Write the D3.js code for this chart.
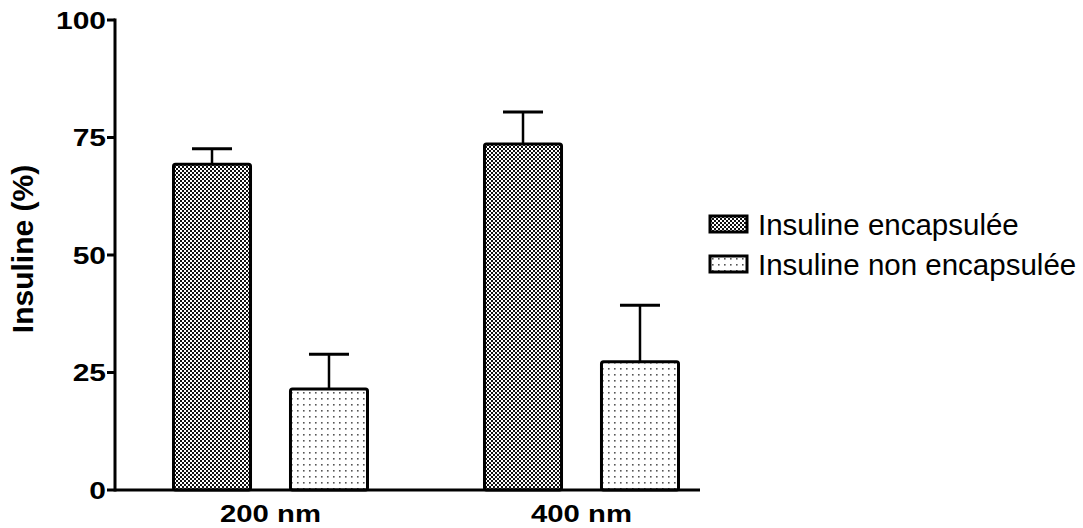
<!DOCTYPE html>
<meta charset="utf-8">
<style>
  body { margin: 0; background: #fff; }
  text { font-family: "Liberation Sans", Arial, sans-serif; }
</style>
<body>
<script src="https://d3js.org/d3.v7.min.js"></script>
<script>
    var width = 1083,
        height = 528;

    // data
    var groups = ['200 nm', '400 nm'];
    var series = ['Insuline encapsulée', 'Insuline non encapsulée'];
    var encapsulee = [69.3, 73.6];
    var encapsuleeErr = [3.3, 6.8];
    var nonEncapsulee = [21.5, 27.3];
    var nonEncapsuleeErr = [7.4, 12.0];
    var yTicks = [0, 25, 50, 75, 100];

    var rows = [];
    groups.forEach(function (g, i) {
        rows.push({group: g, serie: series[0], value: encapsulee[i], err: encapsuleeErr[i]});
        rows.push({group: g, serie: series[1], value: nonEncapsulee[i], err: nonEncapsuleeErr[i]});
    });

    var svg = d3.select('body').append('svg')
        .attr('width', width)
        .attr('height', height);

    var defs = svg.append('defs');
    // dense checker for encapsulée
    var p1 = defs.append('pattern').attr('id', 'pat0')
        .attr('patternUnits', 'userSpaceOnUse').attr('width', 4).attr('height', 4);
    p1.append('rect').attr('width', 4).attr('height', 4).attr('fill', '#fff');
    p1.append('rect').attr('width', 2).attr('height', 2).attr('fill', '#111');
    p1.append('rect').attr('x', 2).attr('y', 2).attr('width', 2).attr('height', 2).attr('fill', '#111');
    // sparse dots for non encapsulée
    var p2 = defs.append('pattern').attr('id', 'pat1')
        .attr('patternUnits', 'userSpaceOnUse').attr('width', 6).attr('height', 6);
    p2.append('rect').attr('width', 6).attr('height', 6).attr('fill', '#fff');
    p2.append('rect').attr('x', 2).attr('y', 2).attr('width', 1.6).attr('height', 1.6).attr('fill', '#555');

    var y = d3.scaleLinear().domain([0, 100]).range([490, 20]);
    var x0 = d3.scaleBand().domain(groups).range([115, 737]);
    var x1 = d3.scaleBand().domain(series).range([57, 254]).paddingInner(0.316);
    var fill = d3.scaleOrdinal().domain(series).range(['url(#pat0)', 'url(#pat1)']);

    // bars
    var bar = svg.append('g').selectAll('g')
        .data(rows)
        .enter().append('g')
        .attr('transform', d => `translate(${x0(d.group) + x1(d.serie)},0)`);

    // error bars (up only)
    bar.append('line')
        .attr('x1', x1.bandwidth() / 2).attr('x2', x1.bandwidth() / 2)
        .attr('y1', d => y(d.value)).attr('y2', d => y(d.value + d.err))
        .attr('stroke', '#000').attr('stroke-width', 2.5);
    bar.append('line')
        .attr('x1', x1.bandwidth() / 2 - 20).attr('x2', x1.bandwidth() / 2 + 20)
        .attr('y1', d => y(d.value + d.err)).attr('y2', d => y(d.value + d.err))
        .attr('stroke', '#000').attr('stroke-width', 3);

    bar.append('rect')
        .attr('x', 1.5)
        .attr('y', d => y(d.value))
        .attr('width', x1.bandwidth() - 3)
        .attr('height', d => y(0) - y(d.value))
        .attr('rx', 2)
        .attr('fill', d => fill(d.serie))
        .attr('stroke', '#000')
        .attr('stroke-width', 3);

    // y axis
    var yAxis = svg.append('g');
    yAxis.append('line')
        .attr('x1', 115).attr('x2', 115)
        .attr('y1', y(100) - 1.5).attr('y2', y(0) + 1.5)
        .attr('stroke', '#000').attr('stroke-width', 3);
    var tk = yAxis.selectAll('.tick').data(yTicks).enter().append('g').attr('class', 'tick');
    tk.append('line')
        .attr('x1', 107).attr('x2', 115)
        .attr('y1', d => y(d)).attr('y2', d => y(d))
        .attr('stroke', '#000').attr('stroke-width', 3);
    // the original's bold labels are a bit wider than Liberation, stretch them
    tk.append('text')
        .attr('transform', d => `translate(106,${y(d)}) scale(1.25,1)`)
        .attr('dy', '0.36em')
        .attr('text-anchor', 'end')
        .attr('font-size', 24).attr('font-weight', 'bold')
        .text(d => d);

    // x axis
    svg.append('line')
        .attr('x1', 115).attr('x2', 700)
        .attr('y1', y(0)).attr('y2', y(0))
        .attr('stroke', '#000').attr('stroke-width', 3);
    svg.append('g').selectAll('text')
        .data(groups)
        .enter().append('text')
        .attr('transform', d => `translate(${x0(d) + x0.bandwidth() / 2},522) scale(1.22,1)`)
        .attr('text-anchor', 'middle')
        .attr('font-size', 24).attr('font-weight', 'bold')
        .text(d => d);

    // y title
    svg.append('text')
        .attr('transform', 'translate(33,249) rotate(-90)')
        .attr('text-anchor', 'middle')
        .attr('font-size', 30).attr('font-weight', 'bold')
        .text('Insuline (%)');

    // legend
    var leg = svg.append('g').selectAll('g')
        .data(series)
        .enter().append('g')
        .attr('transform', (d, i) => `translate(710,${216 + i * 40})`);
    leg.append('rect')
        .attr('width', 37).attr('height', 16)
        .attr('fill', d => fill(d))
        .attr('stroke', '#000').attr('stroke-width', 3);
    leg.append('text')
        .attr('x', 48).attr('y', 8)
        .attr('dy', '0.36em')
        .attr('font-size', 29.5)
        .text(d => d);
</script>
</body>
</html>
